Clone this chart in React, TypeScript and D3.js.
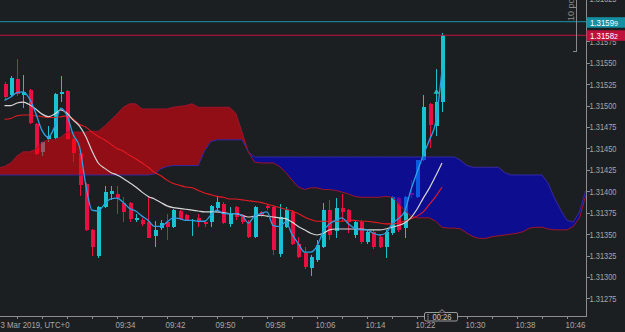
import React from "react";
import * as d3 from "d3";

const W = 625;
const H = 332;
const PLOT_RIGHT = 586.5;
const PLOT_BOTTOM = 316.5;

// ---- data -----------------------------------------------------------
const dayPrefix = "2019-03-13 ";
const firstBar = "09:16";
const lastAxisTime = "10:46";
const dateLabel = "3 Mar 2019, UTC+0";
const timeLabels = ["09:34", "09:42", "09:50", "09:58", "10:06", "10:14", "10:22", "10:30", "10:38", "10:46"];
const priceTicks = [1.31625, 1.316, 1.31575, 1.3155, 1.31525, 1.315, 1.31475, 1.3145, 1.31425, 1.314, 1.31375, 1.3135, 1.31325, 1.313, 1.31275];

const askPrice = 1.31599;
const bidPrice = 1.31582;
const countdown = "00:26";
const scaleNote = "10 points";

const candleOpen = [
  1.31525, 1.31512, 1.31531, 1.31512, 1.31518, 1.31479, 1.31446, 1.31461, 1.31462, 1.31513,
  1.31517, 1.31461, 1.31445, 1.31409, 1.31355, 1.31324, 1.31382, 1.31397, 1.31397, 1.31386,
  1.31386, 1.31366, 1.31367, 1.31364, 1.31348, 1.31357, 1.31364, 1.31358, 1.31377, 1.31372,
  1.31365, 1.31369, 1.31364, 1.31364, 1.31381, 1.31385, 1.31362, 1.31382, 1.31372, 1.31364,
  1.31347, 1.31376, 1.31383, 1.31382, 1.31327, 1.31358, 1.31376, 1.31339, 1.31328, 1.3131,
  1.3132, 1.31335, 1.31378, 1.31354, 1.3138, 1.31378, 1.31349, 1.31364, 1.31341, 1.31353,
  1.31347, 1.31335, 1.31351, 1.31392, 1.31357, 1.31398, 1.31393, 1.31436, 1.31502, 1.31476,
  1.31504,
];
const candleHigh = [
  1.31527, 1.31534, 1.31554, 1.31536, 1.31519, 1.3148, 1.31458, 1.31476, 1.31515, 1.31534,
  1.31518, 1.31462, 1.31446, 1.3141, 1.31356, 1.31383, 1.31406, 1.31406, 1.31406, 1.31393,
  1.31388, 1.31374, 1.31369, 1.31393, 1.31365, 1.31366, 1.31374, 1.31379, 1.31378, 1.31374,
  1.31368, 1.31374, 1.31366, 1.31384, 1.31393, 1.31387, 1.31382, 1.31383, 1.31374, 1.31366,
  1.31383, 1.31377, 1.31384, 1.31383, 1.31385, 1.31382, 1.31378, 1.31347, 1.31335, 1.31326,
  1.31343, 1.31386, 1.3139, 1.31392, 1.31397, 1.31379, 1.31366, 1.31366, 1.31355, 1.31355,
  1.31349, 1.31355, 1.31395, 1.31393, 1.31395, 1.31413, 1.31437, 1.31512, 1.31503, 1.31543,
  1.31585,
];
const candleLow = [
  1.31508, 1.3151, 1.31511, 1.31497, 1.31479, 1.31442, 1.31441, 1.31457, 1.31461, 1.31504,
  1.3146, 1.31434, 1.31395, 1.31354, 1.31324, 1.31322, 1.3138, 1.3139, 1.31374, 1.31364,
  1.31364, 1.31364, 1.3136, 1.31345, 1.31335, 1.31355, 1.31343, 1.31357, 1.31366, 1.31365,
  1.31348, 1.31358, 1.31358, 1.31358, 1.31378, 1.31362, 1.31358, 1.31366, 1.31362, 1.31346,
  1.31346, 1.3137, 1.31378, 1.31326, 1.31323, 1.31357, 1.31337, 1.31322, 1.31309, 1.31301,
  1.31318, 1.31334, 1.31343, 1.31346, 1.31364, 1.31351, 1.31346, 1.31339, 1.31339, 1.31333,
  1.31334, 1.31322, 1.31349, 1.31353, 1.31346, 1.31392, 1.31392, 1.31435, 1.3145, 1.31464,
  1.31492,
];
const candleClose = [
  1.3151, 1.31532, 1.31514, 1.31516, 1.3148, 1.31444, 1.31457, 1.31464, 1.31513, 1.31516,
  1.31461, 1.31445, 1.31407, 1.31355, 1.31335, 1.31382, 1.31399, 1.314, 1.31392, 1.31376,
  1.31368, 1.31369, 1.31362, 1.31346, 1.31355, 1.31363, 1.31358, 1.31378, 1.31368, 1.31366,
  1.31367, 1.31364, 1.31362, 1.31383, 1.31388, 1.31363, 1.31375, 1.3137, 1.31364, 1.31347,
  1.31382, 1.31372, 1.3138, 1.31331, 1.3137, 1.31378, 1.31339, 1.31323, 1.31312, 1.31323,
  1.31337, 1.31378, 1.31349, 1.31381, 1.31376, 1.31364, 1.31364, 1.31341, 1.31353, 1.31335,
  1.31335, 1.31352, 1.31393, 1.31355, 1.31393, 1.31396, 1.31436, 1.31498, 1.31477, 1.31504,
  1.31582,
];

const fastLine = [
  1.31506, 1.3151, 1.31515, 1.31516, 1.31508, 1.31491, 1.31471, 1.31463, 1.31475, 1.31497,
  1.31488, 1.31466, 1.31452, 1.31408, 1.31378, 1.31377, 1.31385, 1.31391, 1.31392, 1.31387,
  1.3138, 1.31377, 1.31371, 1.31366, 1.31359, 1.31359, 1.31364, 1.31369, 1.31368, 1.31366,
  1.31366, 1.31365, 1.31365, 1.31372, 1.31378, 1.31374, 1.31374, 1.31374, 1.31372, 1.31363,
  1.31371, 1.31374, 1.31376, 1.3136, 1.31359, 1.31364, 1.3135, 1.31339, 1.31329, 1.31329,
  1.31336, 1.31353, 1.31362, 1.31366, 1.31369, 1.31362, 1.31357, 1.31355, 1.31355, 1.31351,
  1.31349, 1.31351, 1.31362, 1.31368, 1.31376, 1.31401, 1.31422, 1.31442, 1.3146, 1.31481,
  1.31541,
];
const midLine = [
  1.315, 1.315, 1.31503, 1.31504, 1.31501, 1.31496, 1.3149, 1.31487, 1.3149, 1.31495,
  1.31491, 1.31483, 1.31476, 1.31464, 1.31447, 1.31433, 1.31427, 1.31422, 1.31419, 1.31415,
  1.3141, 1.31405, 1.31399, 1.31394, 1.31391, 1.31387, 1.31383, 1.31381, 1.3138, 1.31379,
  1.31378, 1.31377, 1.31376, 1.31376, 1.31376, 1.31375, 1.31374, 1.31374, 1.31372, 1.3137,
  1.31371, 1.31372, 1.31371, 1.3137, 1.31369, 1.31368, 1.31364, 1.31359, 1.31355, 1.31351,
  1.31349, 1.31351, 1.31355, 1.31356, 1.31356, 1.31356, 1.31356, 1.31356, 1.31355, 1.31355,
  1.31355, 1.31356, 1.31358, 1.3136, 1.31363, 1.31369, 1.31379, 1.31392, 1.31404, 1.31418,
  1.31433,
];
const slowLine = [
  1.31484, 1.31485, 1.31488, 1.31489, 1.31489, 1.31488, 1.31487, 1.31486, 1.31486, 1.31487,
  1.31488, 1.31484, 1.31478, 1.31475, 1.31469, 1.31464, 1.3146, 1.31455, 1.3145, 1.31447,
  1.31442, 1.31438, 1.31433, 1.31428, 1.31422, 1.31418, 1.31413, 1.31409, 1.31407, 1.31405,
  1.31404, 1.31401, 1.31398, 1.31396, 1.31394, 1.31393, 1.31391, 1.31391, 1.3139, 1.31389,
  1.31388, 1.31387, 1.31385, 1.31383, 1.31381, 1.31379, 1.31377, 1.31374, 1.3137, 1.31367,
  1.31365, 1.31365, 1.31365, 1.31365, 1.31365, 1.31366, 1.31366, 1.31365, 1.31365, 1.31364,
  1.31363, 1.31362, 1.31362, 1.31363, 1.31365, 1.31368, 1.31371, 1.31376, 1.31385, 1.31394,
  1.31405,
];

// Ichimoku cloud spans, first value belongs to the bar before the first candle
const cloudFirstBarOffset = -1;
const spanA = [
  1.31427,
  1.31429, 1.31433, 1.31441, 1.31446, 1.31446, 1.31449, 1.31457, 1.3146, 1.3146, 1.31463,
  1.31469, 1.31469, 1.31469, 1.31469, 1.3147, 1.3147, 1.31476, 1.31483, 1.3149, 1.31498,
  1.31502, 1.31502, 1.31496, 1.31496, 1.31496, 1.31496, 1.31496, 1.31498, 1.31499, 1.315,
  1.31502, 1.31498, 1.31498, 1.31498, 1.31498, 1.31498, 1.31498, 1.31491, 1.31469, 1.31446,
  1.31434, 1.31433, 1.31433, 1.31433, 1.31429, 1.31422, 1.31413, 1.31405, 1.31402, 1.31404,
  1.31404, 1.31402, 1.31402, 1.31401, 1.31399, 1.31397, 1.31394, 1.31393, 1.31393, 1.31393,
  1.31393, 1.31394, 1.31393, 1.31386, 1.31378, 1.31371, 1.31369, 1.31369, 1.31369, 1.31365,
  1.31358, 1.31357, 1.31357, 1.31356, 1.31351, 1.31347, 1.31345, 1.31345, 1.31347, 1.31348,
  1.31349, 1.3135, 1.31351, 1.31353, 1.31357, 1.31358, 1.31358, 1.31356, 1.31355, 1.31355,
  1.31355, 1.31359, 1.31369, 1.31395,
];
const spanB = [
  1.31419,
  1.31419, 1.31419, 1.31419, 1.31419, 1.31419, 1.31419, 1.31419, 1.31419, 1.31419, 1.31419,
  1.31419, 1.31419, 1.31419, 1.31419, 1.31419, 1.31419, 1.31419, 1.31419, 1.31419, 1.31419,
  1.31419, 1.31419, 1.31419, 1.31419, 1.3142, 1.31426, 1.31429, 1.3143, 1.3143, 1.3143,
  1.3143, 1.3143, 1.31447, 1.31458, 1.3146, 1.3146, 1.3146, 1.3146, 1.3146, 1.31446,
  1.3144, 1.3144, 1.3144, 1.3144, 1.3144, 1.3144, 1.3144, 1.3144, 1.3144, 1.3144,
  1.3144, 1.3144, 1.3144, 1.3144, 1.3144, 1.3144, 1.3144, 1.3144, 1.3144, 1.3144,
  1.3144, 1.3144, 1.3144, 1.3144, 1.3144, 1.3144, 1.3144, 1.3144, 1.3144, 1.3144,
  1.3144, 1.3144, 1.3144, 1.31436, 1.3143, 1.31428, 1.31428, 1.31428, 1.31428, 1.31428,
  1.31422, 1.31419, 1.31419, 1.31419, 1.31419, 1.31419, 1.31419, 1.31409, 1.31392, 1.31378,
  1.31366, 1.31364, 1.31376, 1.31401,
];

const markerBars = [69];
const markerPrices = [1.31516];

// ---- styles ---------------------------------------------------------
const BG = "#1c1f22";
const AXIS = "#8d8d8d";
const TEXT = "#a6a6a6";
const UP = "#18c2d0";
const DOWN = "#ea0f43";
const FONT = "'Liberation Sans', Arial, sans-serif";

export default function App() {
  const parse = d3.timeParse("%Y-%m-%d %H:%M");
  const t0 = parse(dayPrefix + firstBar) as Date;
  const tEnd = parse(dayPrefix + lastAxisTime) as Date;
  const barTime = (i: number) => d3.timeMinute.offset(t0, i);

  const x = d3.scaleTime().domain([t0, tEnd]).range([4.5, 567]);
  const y = d3.scaleLinear().domain([1.31275, 1.3155]).range([298.4, 62.7]);
  const fmt = d3.format(".5f");

  const bars = d3.range(candleOpen.length);
  const cloudIdx = d3.range(spanA.length);
  const cx = (k: number) => x(barTime(k + cloudFirstBarOffset));

  const cloudArea = d3
    .area<number>()
    .x((k) => cx(k))
    .y0((k) => y(spanA[k]))
    .y1((k) => y(spanB[k]));
  const aboveB = d3
    .area<number>()
    .x((k) => cx(k))
    .y0(-20)
    .y1((k) => y(spanB[k]));
  const belowB = d3
    .area<number>()
    .x((k) => cx(k))
    .y0((k) => y(spanB[k]))
    .y1(H + 20);
  const lineA = d3
    .line<number>()
    .x((k) => cx(k))
    .y((k) => y(spanA[k]));
  const lineB = d3
    .line<number>()
    .x((k) => cx(k))
    .y((k) => y(spanB[k]));

  const seriesLine = (vals: number[]) =>
    d3
      .line<number>()
      .x((i) => x(barTime(i)))
      .y((i) => y(vals[i]))
      .curve(d3.curveMonotoneX)(bars) as string;

  const tickBars = d3.range(2, 91, 4);

  const askY = y(askPrice);
  const bidY = y(bidPrice);
  const lastX = x(barTime(candleOpen.length - 1));

  // labels fully hidden behind the ask badge are not drawn
  const visibleLabels = priceTicks.filter((p) => Math.abs(y(p) - askY) > 3);

  const priceText = (p: number) => {
    const s = fmt(p);
    return [s.slice(0, -1), s.slice(-1)];
  };
  const [askMain, askPip] = priceText(askPrice);
  const [bidMain, bidPip] = priceText(bidPrice);

  return (
    <svg
      width={W}
      height={H}
      viewBox={`0 0 ${W} ${H}`}
      style={{ position: "fixed", left: 0, top: 0, display: "block" }}
      fontFamily={FONT}
    >
      <defs>
        <clipPath id="plot">
          <rect x={0} y={0} width={PLOT_RIGHT} height={PLOT_BOTTOM} />
        </clipPath>
        <clipPath id="aboveB">
          <path d={aboveB(cloudIdx) as string} />
        </clipPath>
        <clipPath id="belowB">
          <path d={belowB(cloudIdx) as string} />
        </clipPath>
      </defs>
      <rect x={0} y={0} width={W} height={H} fill={BG} />

      <g clipPath="url(#plot)">
        {/* candles */}
        {bars.map((i) => {
          const up = candleClose[i] >= candleOpen[i];
          const col = up ? UP : DOWN;
          const px = Math.round(x(barTime(i)));
          const top = y(Math.max(candleOpen[i], candleClose[i]));
          const bot = y(Math.min(candleOpen[i], candleClose[i]));
          return (
            <g key={i} shapeRendering="crispEdges">
              <line x1={px + 0.5} x2={px + 0.5} y1={y(candleHigh[i])} y2={y(candleLow[i])} stroke={col} strokeWidth={1} />
              <rect x={px - 1.5} y={top} width={4} height={Math.max(1, bot - top)} fill={col} />
            </g>
          );
        })}
        {markerBars.map((b, k) => {
          const mx = Math.round(x(barTime(b))) + 0.5;
          const my = y(markerPrices[k]);
          return <path key={k} d={`M${mx - 3},${my + 2} L${mx},${my - 3} L${mx + 3},${my + 2} Z`} fill={UP} />;
        })}

        {/* cloud */}
        <path d={cloudArea(cloudIdx) as string} fill="rgb(250,0,12)" fillOpacity={0.53} clipPath="url(#aboveB)" />
        <path d={cloudArea(cloudIdx) as string} fill="rgb(0,0,240)" fillOpacity={0.53} clipPath="url(#belowB)" />
        <path d={lineB(cloudIdx) as string} fill="none" stroke="#3a2cb8" strokeWidth={1} strokeOpacity={0.85} />
        <path d={lineA(cloudIdx) as string} fill="none" stroke="#a0132c" strokeWidth={1} />

        {/* moving lines */}
        <path d={seriesLine(slowLine)} fill="none" stroke="#e81a22" strokeWidth={1.1} />
        <path d={seriesLine(midLine)} fill="none" stroke="#d6d6d6" strokeWidth={1.2} />
        <path d={seriesLine(fastLine)} fill="none" stroke="#2d9fe2" strokeWidth={1.3} />

        {/* price lines */}
        <line x1={0} x2={PLOT_RIGHT} y1={askY + 1} y2={askY + 1} stroke="#1796a8" strokeWidth={1} />
        <line x1={0} x2={PLOT_RIGHT} y1={bidY} y2={bidY} stroke="#c4103c" strokeWidth={1} />
      </g>

      {/* scale note */}
      <text
        transform={`translate(573.5,21) rotate(-90)`}
        fontSize={9}
        fontFamily={FONT}
        fill="#8a8a8a"
      >
        {scaleNote}
      </text>
      <g stroke="#8a8a8a" strokeWidth={1} shapeRendering="crispEdges">
        <line x1={576.5} x2={576.5} y1={0} y2={52} />
        <line x1={573} x2={577} y1={51.5} y2={51.5} />
      </g>

      {/* axes */}
      <g stroke={AXIS} strokeWidth={1} shapeRendering="crispEdges">
        <line x1={PLOT_RIGHT} x2={PLOT_RIGHT} y1={0} y2={PLOT_BOTTOM} />
        <line x1={0} x2={PLOT_RIGHT} y1={PLOT_BOTTOM} y2={PLOT_BOTTOM} />
        {priceTicks.map((p) => (
          <line key={p} x1={PLOT_RIGHT} x2={PLOT_RIGHT + 3} y1={Math.round(y(p)) + 0.5} y2={Math.round(y(p)) + 0.5} />
        ))}
        {tickBars.map((b) => {
          const tx = Math.round(x(barTime(b))) + 0.5;
          return <line key={b} x1={tx} x2={tx} y1={PLOT_BOTTOM} y2={PLOT_BOTTOM + 2.5} />;
        })}
      </g>
      {visibleLabels.map((p) => (
        <text key={p} x={589.5} y={y(p) + 3.5} fontSize={9.5} fill={TEXT} textLength={27} lengthAdjust="spacingAndGlyphs">
          {fmt(p)}
        </text>
      ))}
      {timeLabels.map((lab) => {
        const tx = x(parse(dayPrefix + lab) as Date);
        return (
          <text key={lab} x={tx - 1.5} y={327.5} fontSize={9.5} fill={TEXT} textLength={20} lengthAdjust="spacingAndGlyphs">
            {lab}
          </text>
        );
      })}
      <text x={0.5} y={327.5} fontSize={9.5} fill={TEXT} textLength={69} lengthAdjust="spacingAndGlyphs">
        {dateLabel}
      </text>

      {/* price badges */}
      <rect x={586.5} y={askY - 3.5} width={40} height={10.5} fill="#1590a2" />
      <text x={590} y={askY + 5} fontSize={9.5} fill="#ffffff">
        <tspan textLength={24} lengthAdjust="spacingAndGlyphs">{askMain}</tspan>
        <tspan fontSize={7}>{askPip}</tspan>
      </text>
      <rect x={586.5} y={bidY - 5} width={40} height={10.5} fill="#c0103c" />
      <text x={590} y={bidY + 3.5} fontSize={9.5} fill="#ffffff">
        <tspan textLength={24} lengthAdjust="spacingAndGlyphs">{bidMain}</tspan>
        <tspan fontSize={7}>{bidPip}</tspan>
      </text>

      {/* countdown box */}
      <g>
        <rect x={lastX - 17.5} y={312.5} width={33} height={8.5} rx={1.5} fill={BG} stroke="#9a9a9a" strokeWidth={1} />
        <path
          d={`M${lastX - 3},${312.5} L${lastX},${309.5} L${lastX + 3},${312.5}`}
          fill={BG}
          stroke="#9a9a9a"
          strokeWidth={1}
        />
        <rect x={lastX - 14.5} y={314} width={1} height={1.2} fill="#bdbdbd" />
        <rect x={lastX - 14.5} y={316.2} width={1} height={1.2} fill="#bdbdbd" />
        <rect x={lastX - 14.5} y={318.4} width={1} height={1.2} fill="#bdbdbd" />
        <text x={lastX - 9.5} y={319.8} fontSize={8.5} fill="#c8c8c8" textLength={19} lengthAdjust="spacingAndGlyphs">
          {countdown}
        </text>
      </g>
    </svg>
  );
}
